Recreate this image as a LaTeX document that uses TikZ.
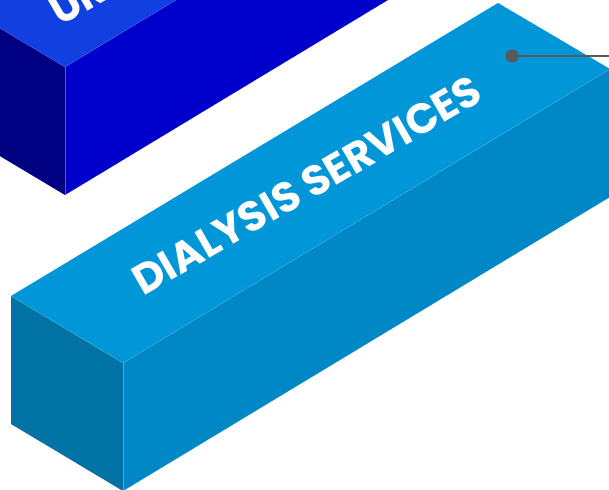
\documentclass[tikz,border=0pt]{standalone}
\usepackage{fontspec}
\newfontfamily\labelfont{Poppins Bold}
\definecolor{ltop}{HTML}{0096D8}
\definecolor{lfront}{HTML}{0088C6}
\definecolor{lend}{HTML}{0072A4}
\definecolor{ledge}{HTML}{3FAEE2}
\definecolor{dtop}{HTML}{1240E0}
\definecolor{dfront}{HTML}{0000CC}
\definecolor{dend}{HTML}{000082}
\definecolor{dedge}{HTML}{4A5CE8}
\definecolor{callout}{HTML}{58595B}
\tikzset{
  facefill/.style={fill=#1, draw=none},
  edgeline/.style={draw=#1, line width=0.5pt},
  boxlabel/.style={text=white, font=\labelfont\fontsize{42}{42}\selectfont, rotate=30, anchor=base west, inner sep=0pt},
  calloutdot/.style={circle, fill=callout, minimum size=13pt, inner sep=0pt},
  calloutline/.style={draw=callout, line width=2.5pt}
}
\begin{document}
\begin{tikzpicture}[x=1pt,y=-1pt]
\useasboundingbox (0,0) rectangle (609,489);
\clip (0,0) rectangle (609,489);
\fill[white] (0,0) rectangle (609,489);
% dark blue box
\coordinate (dA) at (-47,0);
\coordinate (dF) at (65,67);
\coordinate (dR) at (552,-227);
\coordinate (dB) at (440,-294);
\coordinate (dAb) at (-47,128);
\coordinate (dFb) at (65,195);
\coordinate (dRb) at (552,-99);
\fill[dtop] (dA) -- (dF) -- (dR) -- (dB) -- cycle;
\fill[dfront] (dF) -- (dR) -- (dRb) -- (dFb) -- cycle;
\fill[dend] (dA) -- (dF) -- (dFb) -- (dAb) -- cycle;
\draw[edgeline=dedge] (dA) -- (dF) -- (dR);
\draw[edgeline=dedge] (dF) -- (dFb);
\node[boxlabel] (dlabel) at (60,27) {UR};
% light blue box
\coordinate (lA) at (11,296);
\coordinate (lF) at (123,363);
\coordinate (lR) at (610,69);
\coordinate (lB) at (498,3);
\coordinate (lAb) at (11,424);
\coordinate (lFb) at (123,491);
\coordinate (lRb) at (610,197);
\fill[ltop] (lA) -- (lF) -- (lR) -- (lB) -- cycle;
\fill[lfront] (lF) -- (lR) -- (lRb) -- (lFb) -- cycle;
\fill[lend] (lA) -- (lF) -- (lFb) -- (lAb) -- cycle;
\draw[edgeline=ledge] (lA) -- (lF) -- (lR);
\draw[edgeline=ledge] (lF) -- (lFb);
\node[boxlabel] (llabel) at (143,297) {DIALYSIS SERVICES};
% callout
\node[calloutdot] (dot) at (512,56) {};
\coordinate (lineend) at (612,56);
\draw[calloutline] (dot.center) -- (lineend);
\end{tikzpicture}
\end{document}
